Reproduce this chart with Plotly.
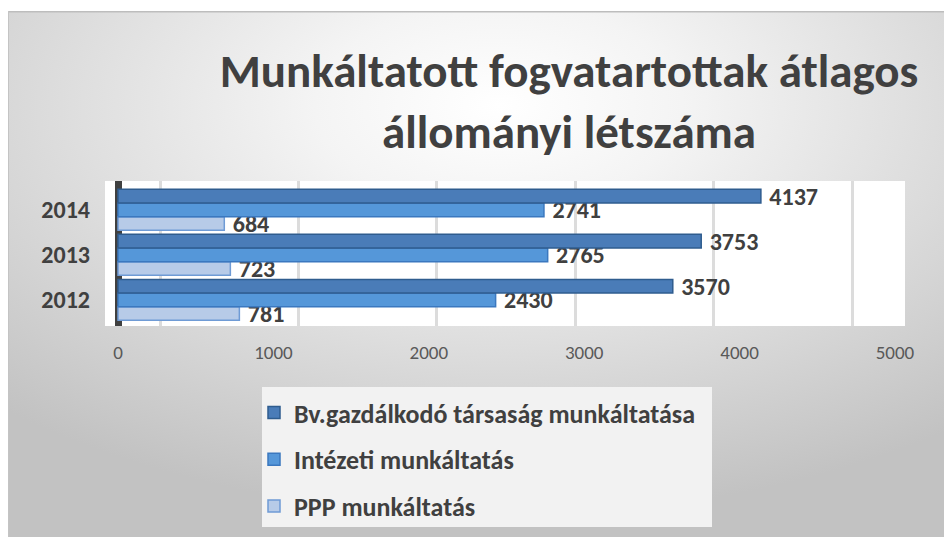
import base64
import plotly.graph_objects as go

years = ["2012", "2013", "2014"]
bv_values = [3570, 3753, 4137]
intezeti_values = [2430, 2765, 2741]
ppp_values = [781, 723, 684]

series_names = ["PPP munkáltatás", "Intézeti munkáltatás", "Bv.gazdálkodó társaság munkáltatása"]
legend_ranks = [3, 2, 1]
x_ticks = [0, 1000, 2000, 3000, 4000, 5000]

title_text = "Munkáltatott fogvatartottak átlagos<br>állományi létszáma"

FONT = "Carlito, Calibri, Lato, 'Open Sans', sans-serif"

# page offset (body margin) -> figure coordinates = page px - OFF
OFF = 8
W, H = 952, 537

def f(p):
    return p - OFF

PL, PR, PT, PB = f(105), f(905), f(181), f(326)   # plot area in figure px
PW, PH = PR - PL, PB - PT

def px_x(p):
    return (f(p) - PL) / PW

def px_y(p):
    return (PB - f(p)) / PH

BGW, BGH = W - 8, H - 11
svg = f'''<svg xmlns="http://www.w3.org/2000/svg" width="{BGW}" height="{BGH}" viewBox="0 0 {BGW} {BGH}" preserveAspectRatio="none">
<defs><radialGradient id="g" cx="0.52" cy="0.18" r="0.78" gradientUnits="objectBoundingBox">
<stop offset="0" stop-color="#ffffff"/><stop offset="0.25" stop-color="#f4f4f4"/><stop offset="1" stop-color="#c2c2c2"/></radialGradient></defs>
<rect x="0" y="0" width="{BGW}" height="{BGH}" fill="url(#g)"/>
<line x1="0" y1="0.75" x2="{BGW}" y2="0.75" stroke="#bdbdbd" stroke-width="1.5"/>
<line x1="0.5" y1="0" x2="0.5" y2="{BGH}" stroke="#c4c4c4" stroke-width="1"/>
</svg>'''
bg_uri = "data:image/svg+xml;base64," + base64.b64encode(svg.encode()).decode()

colors = {
    series_names[0]: ("#b7cbe8", "#6f9bd5"),
    series_names[1]: ("#5597d9", "#3b78bf"),
    series_names[2]: ("#4a7cb8", "#2f5c8e"),
}
values = {
    series_names[0]: ppp_values,
    series_names[1]: intezeti_values,
    series_names[2]: bv_values,
}

fig = go.Figure()
for i, name in enumerate(series_names):
    fill, line = colors[name]
    fig.add_trace(go.Bar(
        y=years, x=values[name], name=name, orientation="h",
        marker=dict(color=fill, line=dict(color=line, width=1.5)),
        text=["\u00a0" + str(v) for v in values[name]], textposition="outside",
        constraintext="none",
        textfont=dict(family=FONT, size=24, color="#404040", weight="bold"),
        cliponaxis=False, legendgroup=f"g{i}", legendrank=legend_ranks[i],
    ))

# invisible trace to carry the back-wall grid axis
fig.add_trace(go.Scatter(x=[0], y=[years[0]], xaxis="x2", mode="markers",
                         marker=dict(opacity=0), showlegend=False, hoverinfo="skip"))

fig.update_layout(
    width=W, height=H,
    margin=dict(l=PL, r=W - PR, t=PT, b=H - PB, pad=0, autoexpand=False),
    paper_bgcolor="#ffffff",
    plot_bgcolor="rgba(0,0,0,0)",
    barmode="group", bargap=0.09, bargroupgap=0,
    font=dict(family=FONT, color="#404040"),
    title=dict(text=title_text, x=f(569) / W, xanchor="center", y=1 - f(87) / H, yanchor="middle",
               xref="container", yref="container",
               font=dict(family=FONT, size=47, color="#404040", weight="bold")),
    xaxis=dict(range=[(105 - 118) / 0.1554, 5000 + (905 - 895) / 0.1554],
               tickvals=x_ticks, ticktext=[str(t) for t in x_ticks],
               showgrid=False, zeroline=True, zerolinecolor="#404040", zerolinewidth=7,
               tickfont=dict(family=FONT, size=19, color="#595959"),
               ticklabelstandoff=13, fixedrange=True),
    xaxis2=dict(overlaying="x", range=[(105 - 160) / 0.1384, (905 - 160) / 0.1384],
                dtick=1000, tick0=0, showgrid=True, gridcolor="#dcdcdc", gridwidth=2.5,
                showticklabels=False, zeroline=False, side="bottom"),
    yaxis=dict(categoryorder="array", categoryarray=years, range=[-0.58, 2.64],
               showgrid=False, zeroline=False, showline=False,
               tickfont=dict(family=FONT, size=24, color="#404040", weight="bold"),
               ticklabelstandoff=14),
    legend=dict(x=px_x(254), xanchor="left", y=px_y(389), yanchor="top",
                traceorder="grouped", tracegroupgap=10,
                bgcolor="rgba(0,0,0,0)",
                font=dict(family=FONT, size=26, color="#404040", weight="bold"),
                itemwidth=30),
    images=[dict(source=bg_uri, xref="paper", yref="paper",
                 x=px_x(8), y=px_y(11), sizex=BGW / PW, sizey=BGH / PH,
                 xanchor="left", yanchor="top", sizing="stretch", layer="below")],
    shapes=[
        dict(type="rect", xref="paper", yref="paper", x0=0, x1=1, y0=0, y1=1,
             fillcolor="#ffffff", line=dict(width=0), layer="below"),
        dict(type="rect", xref="paper", yref="paper", x0=px_x(262), x1=px_x(712),
             y0=px_y(387), y1=px_y(527), fillcolor="#f2f2f2", line=dict(width=0), layer="below"),
    ],
)

fig.write_html("out.html")
